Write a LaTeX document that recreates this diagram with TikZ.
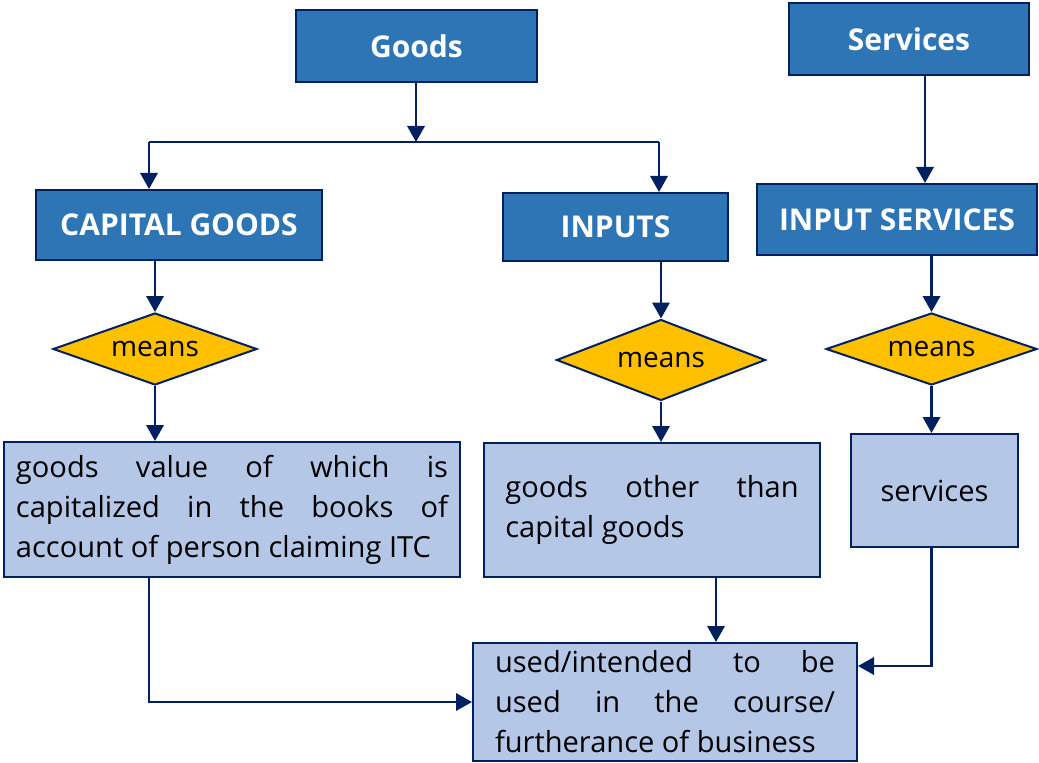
\documentclass[tikz,border=0pt]{standalone}
\usepackage{fontspec}
\setmainfont{Open Sans}
\usetikzlibrary{positioning}
\usetikzlibrary{arrows.meta}
\usetikzlibrary{shapes.geometric}
\definecolor{navy}{RGB}{0,32,96}
\definecolor{headblue}{RGB}{46,117,182}
\definecolor{defblue}{RGB}{180,199,231}
\definecolor{meansgold}{RGB}{255,192,0}
\hyphenpenalty=10000
\tikzset{
        boxnode/.style={align=center,inner sep=0pt},
        % Heading boxes
        node_head/.style={boxnode, rectangle, draw=navy, fill=headblue, text=white, line width=1.5pt, font=\fontsize{22.5}{26}\selectfont\bfseries},
        % Means diamonds
        node_means/.style={boxnode, diamond, draw=navy, fill=meansgold, text=black, line width=1.5pt, font=\fontsize{21}{25}\selectfont},
        % Definition boxes
        node_def/.style={rectangle, draw=navy, fill=defblue, text=black, line width=1.5pt, inner ysep=0pt, align=justify, font=\fontsize{21.8}{30}\selectfont}
}

\begin{document}
\begin{tikzpicture}[
            ->, >={Triangle[length=12pt,width=13pt]},
            x=0.75pt, y=-0.75pt,
            line width=1.8pt
        ]
            \useasboundingbox (0,0) rectangle (1039,763);
            % headings
            \node[node_head, minimum width=180.75pt, minimum height=54pt] (goods) at (416.5,46) {Goods};
            \node[node_head, minimum width=180pt, minimum height=54pt] (services) at (909,39) {Services};
            \node[node_head, minimum width=214.5pt, minimum height=52.5pt] (capgoods) at (179,225) {CAPITAL GOODS};
            \node[node_head, minimum width=168.75pt, minimum height=51pt] (inputs) at (615.5,227) {INPUTS};
            \node[node_head, minimum width=210pt, minimum height=53.25pt] (inserv) at (897,219.5) {INPUT SERVICES};
            % means
            \node[node_means, shape aspect=2.83, minimum width=153pt, minimum height=54pt] (means_cg) at (155,349) {means};
            \node[node_means, shape aspect=2.58, minimum width=156.75pt, minimum height=60.75pt] (means_in) at (661,360) {means};
            \node[node_means, shape aspect=2.93, minimum width=158.25pt, minimum height=54pt] (means_is) at (931.5,349) {means};
            % definitions
            \node[node_def, text width=324pt, inner xsep=9pt, minimum height=101.25pt] (def_cg) at (232,509.5)
                {goods value of which is\linebreak capitalized in the books of\linebreak account of person claiming ITC};
            \node[node_def, text width=220pt, inner xsep=16pt, minimum height=100.5pt] (def_in) at (652,510)
                {goods other than\linebreak capital goods};
            \node[node_def, align=center, text width=101.25pt, inner xsep=12pt, minimum height=84.75pt] (def_is) at (934.5,490.5)
                {services};
            \node[node_def, text width=255pt, inner xsep=16.5pt, minimum height=88.5pt] (usage) at (665,702)
                {used/intended to be\linebreak used in the course/\linebreak furtherance of business};
            % connectors
            \coordinate (split) at (416,142);
            \coordinate (split_l) at (149,142);
            \coordinate (split_r) at (659,142);
            \draw[navy] (goods.south -| split) -- (split);
            \draw[navy, -] (split_l) -- (split_r);
            \draw[navy] (split_l) -- (split_l |- capgoods.north);
            \draw[navy] (split_r) -- (split_r |- inputs.north);
            \draw[navy] ([xshift=12pt]services.south) -- ([xshift=12pt]services.south |- inserv.north);
            \draw[navy] (capgoods.south -| means_cg.north) -- (means_cg.north);
            \draw[navy] (means_cg.south) -- (means_cg.south |- def_cg.north);
            \draw[navy] (inputs.south -| means_in.north) -- (means_in.north);
            \draw[navy] (means_in.south) -- (means_in.south |- def_in.north);
            \draw[navy] (inserv.south -| means_is.north) -- (means_is.north);
            \draw[navy] (means_is.south) -- (means_is.south |- def_is.north);
            \draw[navy] (def_cg.south -| split_l) |- (usage.west);
            \draw[navy] ([xshift=48pt]def_in.south) -- ([xshift=48pt]def_in.south |- usage.north);
            \draw[navy] (means_is.south |- def_is.south) |- ([yshift=27pt]usage.east);
        \end{tikzpicture}
\end{document}
